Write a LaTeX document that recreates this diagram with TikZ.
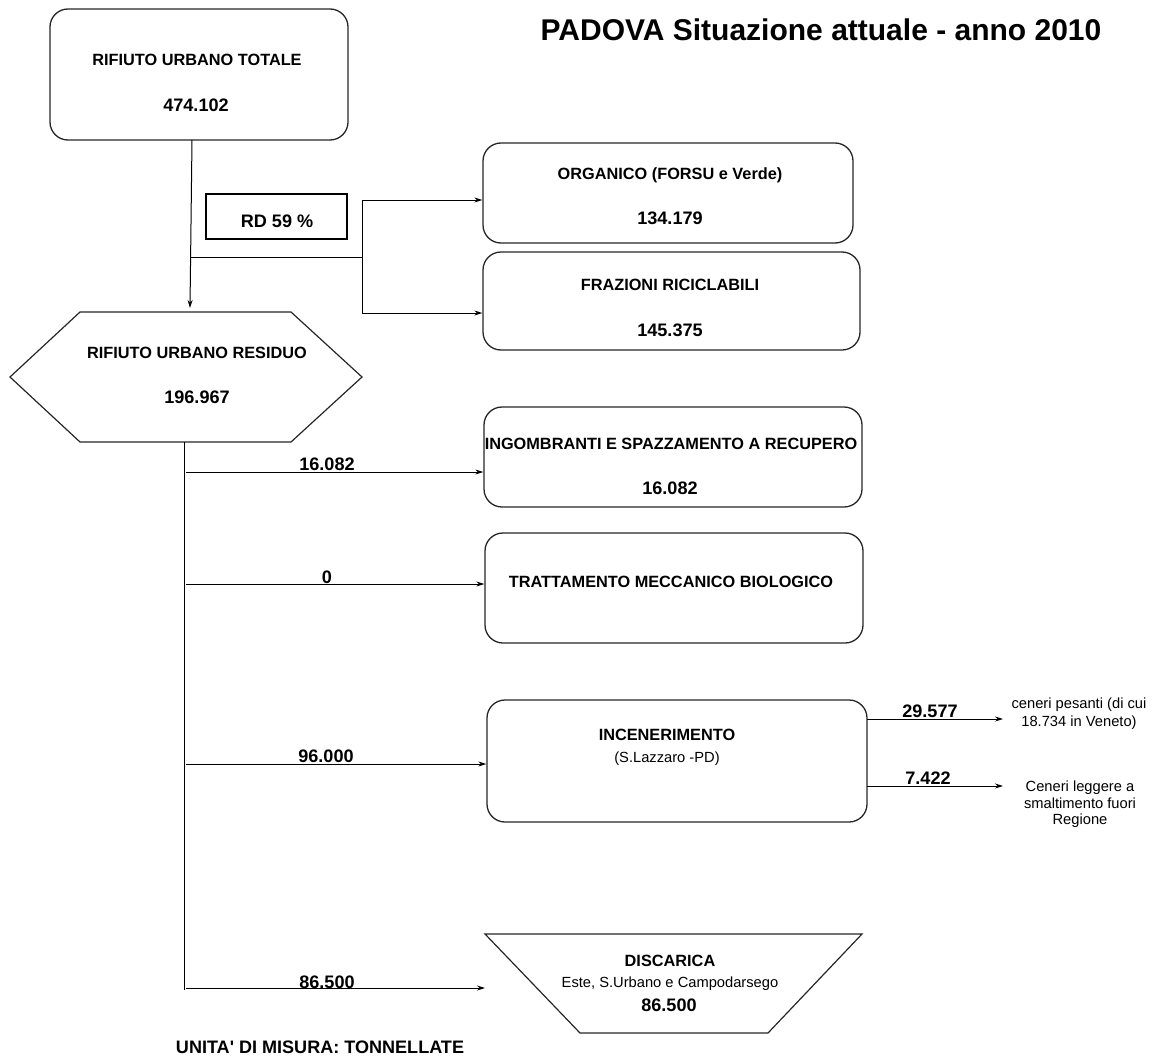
\documentclass[tikz,border=0pt]{standalone}
\usepackage{fontspec}
\setmainfont{Liberation Sans}[Ligatures=TeXOff]
\usetikzlibrary{arrows.meta}

\tikzset{
  box/.style={draw=black!85, line width=1.3pt, rounded corners=18pt, inner sep=0pt},
  conn/.style={line width=1pt, -{Stealth[length=8pt,width=5pt]}},
  wire/.style={line width=1pt},
  capt/.style={font=\bfseries\fontsize{16.3}{19}\selectfont, anchor=base, inner sep=0pt},
  num/.style={font=\bfseries\fontsize{18.1}{21}\selectfont, anchor=base, inner sep=0pt},
  small/.style={font=\fontsize{14.7}{17}\selectfont, anchor=base, inner sep=0pt},
}

\begin{document}
\begin{tikzpicture}[x=1pt, y=-1pt]
\useasboundingbox (0,0) rectangle (1153,1057);

% title
\node[font=\bfseries\fontsize{30}{34}\selectfont, anchor=base, inner sep=0pt] (title) at (821,40.5) {PADOVA Situazione attuale - anno 2010};

% total urban waste
\node[box, minimum width=298pt, minimum height=131pt] (tot) at (199,74.5) {};
\node[capt] (totA) at (197,66) {RIFIUTO URBANO TOTALE};
\node[num] (totB) at (196,111) {474.102};

% separate collection share
\node[draw, line width=2pt, minimum width=141pt, minimum height=45pt, inner sep=0pt] (rd) at (276.5,216) {};
\node[num] (rdT) at (277,227.5) {RD 59 \%};

% residual waste (hexagon)
\coordinate (h1) at (10,377);
\coordinate (h2) at (80,312);
\coordinate (h3) at (291,312);
\coordinate (h4) at (362,377);
\coordinate (h5) at (291,442);
\coordinate (h6) at (80,442);
\draw[line width=1.2pt, draw=black!85] (h1) -- (h2) -- (h3) -- (h4) -- (h5) -- (h6) -- cycle;
\node[capt] (resA) at (197,358) {RIFIUTO URBANO RESIDUO};
\node[num] (resB) at (197,403.5) {196.967};

% separate collection targets
\node[box, minimum width=370pt, minimum height=100pt] (org) at (668,193) {};
\node[capt] (orgA) at (670,179.5) {ORGANICO (FORSU e Verde)};
\node[num] (orgB) at (670,224) {134.179};

\node[box, minimum width=377pt, minimum height=98pt] (fra) at (671.5,301) {};
\node[capt] (fraA) at (670,290) {FRAZIONI RICICLABILI};
\node[num] (fraB) at (670,336.5) {145.375};

% residual waste destinations
\node[box, minimum width=378pt, minimum height=100pt] (ing) at (673,457) {};
\node[capt] (ingA) at (671,449) {INGOMBRANTI E SPAZZAMENTO A RECUPERO};
\node[num] (ingB) at (670,494.5) {16.082};

\node[box, minimum width=378pt, minimum height=110pt] (tmb) at (674,588) {};
\node[capt] (tmbA) at (671,587) {TRATTAMENTO MECCANICO BIOLOGICO};

\node[box, minimum width=380pt, minimum height=122pt] (inc) at (677,761) {};
\node[capt] (incA) at (667,740) {INCENERIMENTO};
\node[small] (incB) at (667,762) {(S.Lazzaro -PD)};

% landfill (trapezoid)
\coordinate (t1) at (485,934);
\coordinate (t2) at (862,934);
\coordinate (t3) at (768,1033);
\coordinate (t4) at (580,1033);
\draw[line width=1.2pt, draw=black!85] (t1) -- (t2) -- (t3) -- (t4) -- cycle;
\node[capt] (disA) at (670,966.5) {DISCARICA};
\node[small] (disB) at (670,987) {Este, S.Urbano e Campodarsego};
\node[num] (disC) at (669,1011.5) {86.500};

% flow from total to residual, with the RD branch
\coordinate (d1) at (192,140);
\coordinate (d2) at (190,308);
\draw[conn] (d1) -- (d2);
\coordinate (b1) at (191,257);
\coordinate (b2) at (362,257);
\draw[wire] (b1) -- (b2);
\coordinate (bt) at (362,200);
\coordinate (bb) at (362,313);
\draw[wire] (bt) -- (bb);
\draw[conn] (bt) -- (bt -| org.west);
\draw[conn] (bb) -- (bb -| fra.west);

% trunk from residual waste
\coordinate (trTop) at (184,442);
\coordinate (trBot) at (184,990);
\draw[wire] (trTop) -- (trBot);

\coordinate (a1) at (186,472);
\coordinate (a2) at (186,584);
\coordinate (a3) at (186,764);
\coordinate (a4) at (186,988);
\draw[conn] (a1) -- (a1 -| ing.west);
\draw[conn] (a2) -- (a2 -| tmb.west);
\draw[conn] (a3) -- (a3 -| inc.west);
\draw[conn] (a4) -- (a4 -| t1);

\node[num] (l1) at (327,470) {16.082};
\node[num] (l2) at (327,583) {0};
\node[num] (l3) at (326,762.5) {96.000};
\node[num] (l4) at (327,988) {86.500};

% incineration residues
\coordinate (c1) at (867,719);
\coordinate (c1e) at (1003,719);
\coordinate (c2) at (867,786);
\coordinate (c2e) at (1003,786);
\draw[conn] (c1) -- (c1e);
\draw[conn] (c2) -- (c2e);
\node[num] (l5) at (930,717.5) {29.577};
\node[num] (l6) at (928,784.5) {7.422};

\node[small] (r1a) at (1079,708) {ceneri pesanti (di cui};
\node[small] (r1b) at (1079,726.5) {18.734 in Veneto)};
\node[small] (r2a) at (1080,791.5) {Ceneri leggere a};
\node[small] (r2b) at (1080,808) {smaltimento fuori};
\node[small] (r2c) at (1080,824) {Regione};

% unit of measure
\node[font=\bfseries\fontsize{18.05}{21}\selectfont, anchor=base, inner sep=0pt] (unit) at (320,1053) {UNITA' DI MISURA: TONNELLATE};
\end{tikzpicture}
\end{document}
